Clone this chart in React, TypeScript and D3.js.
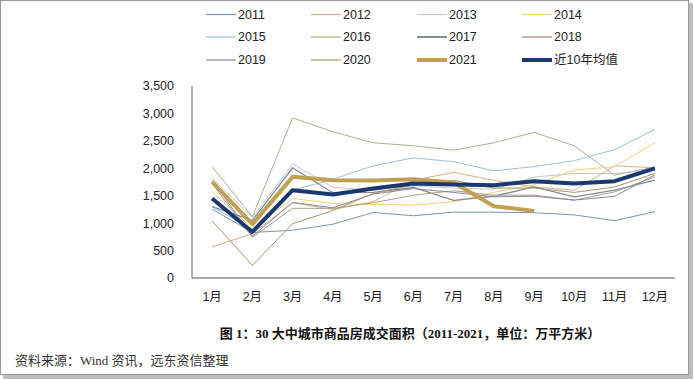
import React from "react";
import * as d3 from "d3";

const months = ["1月", "2月", "3月", "4月", "5月", "6月", "7月", "8月", "9月", "10月", "11月", "12月"];
const yTicks = [0, 500, 1000, 1500, 2000, 2500, 3000, 3500];

const s2011 = [1255, 830, 870, 980, 1195, 1135, 1200, 1200, 1190, 1150, 1045, 1210];
const s2012 = [566, 810, 1370, 1250, 1390, 1780, 1925, 1780, 1660, 1600, 2045, 2010];
const s2013 = [1820, 1100, 2080, 1650, 1600, 1680, 1640, 1620, 1840, 1905, 1905, 1966];
const s2014 = [1570, 900, 1450, 1360, 1340, 1330, 1390, 1560, 1700, 1966, 2030, 2465];
const s2015 = [1300, 880, 1600, 1800, 2045, 2190, 2120, 1955, 2030, 2140, 2340, 2710];
const s2016 = [2030, 1115, 2920, 2665, 2465, 2410, 2330, 2465, 2655, 2410, 1875, 2027];
const s2017 = [1300, 1050, 2010, 1555, 1560, 1650, 1415, 1490, 1660, 1480, 1600, 1785];
const s2018 = [1720, 740, 1270, 1270, 1370, 1510, 1590, 1510, 1510, 1420, 1570, 1845];
const s2019 = [1780, 760, 1380, 1280, 1530, 1630, 1560, 1480, 1490, 1420, 1490, 1880];
const s2020 = [1040, 230, 990, 1230, 1540, 1700, 1780, 1640, 1640, 1560, 1660, 1905];
const s2021 = [1753, 980, 1844, 1783, 1777, 1800, 1741, 1309, 1223];
const sAvg = [1449, 840, 1601, 1522, 1631, 1723, 1704, 1692, 1765, 1723, 1765, 1997];

const seriesNames = ["2011", "2012", "2013", "2014", "2015", "2016", "2017", "2018", "2019", "2020", "2021", "近10年均值"];
const seriesData = [s2011, s2012, s2013, s2014, s2015, s2016, s2017, s2018, s2019, s2020, s2021, sAvg];
const seriesColors = ["#7795b3", "#d9b08a", "#c2c6cb", "#efd272", "#9fbdd6", "#a7b48a", "#858d98", "#ae9d8c", "#8a8899", "#ad9667", "#c0a052", "#1b3870"];
const seriesWidths = [1, 1, 1, 1, 1, 1, 1.3, 1, 1, 1, 4, 4];
const legendWidths = [1.2, 1.2, 1.2, 1.2, 1.2, 1.2, 2, 1.5, 1.2, 1.2, 4, 4];

export default function App() {
  const W = 694, H = 380;
  const left = 192, right = 675, top = 86, bottom = 278;
  const x = d3.scaleBand<string>().domain(months).range([left, right]);
  const y = d3.scaleLinear().domain([0, 3500]).range([bottom, top]);
  const cx = (i: number) => (x(months[i]) as number) + x.bandwidth() / 2;
  const line = d3.line<number>().x((_, i) => cx(i)).y((v) => y(v));

  const order = [5, 4, 0, 1, 2, 3, 6, 7, 8, 9, 10, 11];
  const sans = "'Liberation Sans', Arial, 'Noto Sans CJK SC', sans-serif";
  const serif = "'Liberation Serif', 'Times New Roman', 'Noto Sans CJK SC', serif";

  const legCols = [206, 311, 417, 522];
  const legRows = [14.5, 37, 60];

  return (
    <svg width={W} height={H} style={{ position: "fixed", left: 0, top: 0, background: "#fff" }}>
      <rect x={3} y={3} width={690} height={376} fill="#bdbdbd" />
      <rect x={0.5} y={0.5} width={688} height={374} fill="#fff" stroke="#999" strokeWidth={1} />
      {seriesNames.map((n, i) => {
        const c = i % 4, r = Math.floor(i / 4);
        const lx = legCols[c], ly = legRows[r];
        return (
          <g key={n}>
            <line x1={lx} x2={lx + 30} y1={ly} y2={ly} stroke={seriesColors[i]} strokeWidth={legendWidths[i]} />
            <text x={lx + 32} y={ly} dy="0.35em" fontSize={12.5} fontFamily={sans} fill="#222">{n}</text>
          </g>
        );
      })}
      <line x1={left} x2={left} y1={top} y2={bottom} stroke="#8a8a8a" strokeWidth={1.3} />
      <line x1={left} x2={right} y1={bottom} y2={bottom} stroke="#8a8a8a" strokeWidth={1.3} />
      {yTicks.map((t) => (
        <text key={t} x={174} y={y(t)} dy="0.35em" textAnchor="end" fontSize={12.5} fontFamily={sans} fill="#222">
          {d3.format(",")(t)}
        </text>
      ))}
      {months.map((m, i) => (
        <text key={m} x={cx(i)} y={297} dy="0.35em" textAnchor="middle" fontSize={12.5} fontFamily={sans} fill="#222">
          {m}
        </text>
      ))}
      {order.map((i) => (
        <path key={seriesNames[i]} d={line(seriesData[i]) as string} fill="none" stroke={seriesColors[i]}
          strokeWidth={seriesWidths[i]} strokeLinejoin="round" strokeLinecap="butt" />
      ))}
      <text x={410} y={333} dy="0.35em" textAnchor="middle" fontSize={13} fontWeight="bold" fontFamily={serif} fill="#111">
        图 1：30 大中城市商品房成交面积（2011-2021，单位：万平方米）
      </text>
      <text x={15} y={360} dy="0.35em" fontSize={13} fontFamily={serif} fill="#333">
        资料来源：Wind 资讯，远东资信整理
      </text>
    </svg>
  );
}
